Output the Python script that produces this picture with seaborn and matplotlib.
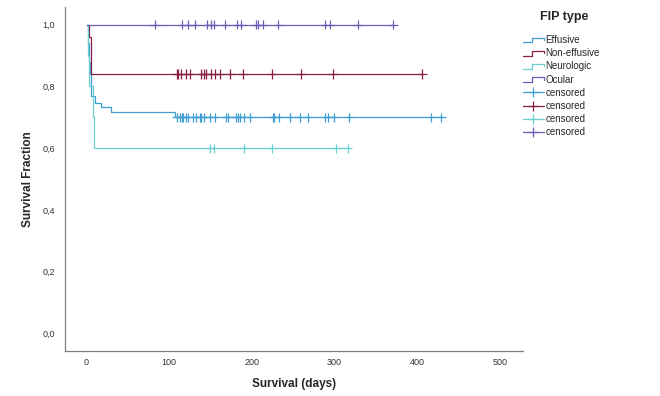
import matplotlib.pyplot as plt
from matplotlib.lines import Line2D
from matplotlib.legend_handler import HandlerBase
from matplotlib.ticker import FuncFormatter
import numpy as np
import pandas as pd
import seaborn as sns

groups = ['Effusive', 'Non-effusive', 'Neurologic', 'Ocular']
colors = ['#3f9fd2', '#8a1d45', '#6dd0d0', '#6a5db8']

# Kaplan-Meier steps (day of event, survival after it)
eff_days = [0, 2, 3, 4, 5, 6, 10, 17, 30, 107]
eff_surv = [1.0, 0.94, 0.88, 0.84, 0.79, 0.77, 0.746, 0.733, 0.717, 0.70]
noneff_days = [0, 3, 5]
noneff_surv = [1.0, 0.96, 0.84]
neuro_days = [0, 2, 3, 8, 9]
neuro_surv = [1.0, 0.9, 0.8, 0.7, 0.6]
ocular_days = [0]
ocular_surv = [1.0]

# censored times
eff_cens = [109, 113, 115, 117, 120, 123, 129, 133, 137, 139, 142, 149, 155, 169, 171,
            181, 183, 186, 191, 198, 225, 227, 233, 246, 258, 268, 289, 292, 299, 318, 417, 429]
noneff_cens = [109, 111, 114, 120, 125, 139, 142, 144, 150, 155, 162, 174, 189, 224, 259, 298, 406]
neuro_cens = [149, 154, 190, 224, 302, 316]
ocular_cens = [83, 116, 123, 131, 146, 151, 154, 168, 182, 187, 205, 208, 214, 232,
               289, 295, 328, 371]

steps = {
    'Effusive': (eff_days, eff_surv, eff_cens),
    'Non-effusive': (noneff_days, noneff_surv, noneff_cens),
    'Neurologic': (neuro_days, neuro_surv, neuro_cens),
    'Ocular': (ocular_days, ocular_surv, ocular_cens),
}

curve_rows = []
cens_rows = []
for g in groups:
    d, s, c = steps[g]
    for day, sv in zip(d + [max(c)], s + [s[-1]]):
        curve_rows.append({'group': g, 'day': day, 'surv': sv})
    for day in c:
        idx = np.searchsorted(d, day, side='right') - 1
        cens_rows.append({'group': g, 'day': day, 'surv': s[idx]})
curves = pd.DataFrame(curve_rows)
cens = pd.DataFrame(cens_rows)

sns.set_style('white')
plt.rcParams['font.family'] = ['Liberation Sans', 'DejaVu Sans']

fig = plt.figure(figsize=(6.6, 3.96), dpi=100)
ax = fig.add_axes([0.0985, 0.114, 0.694, 0.868])
pal = dict(zip(groups, colors))

sns.lineplot(data=curves, x='day', y='surv', hue='group', palette=pal, estimator=None,
             drawstyle='steps-post', linewidth=0.9, legend=False, ax=ax)
sns.scatterplot(data=cens, x='day', y='surv', hue='group', palette=pal, marker='+',
                s=45, linewidth=0.9, legend=False, ax=ax)

ax.set_xlim(-26, 528)
ax.set_ylim(-0.056, 1.057)
ax.set_xticks([0, 100, 200, 300, 400, 500])
ax.set_yticks([0, 0.2, 0.4, 0.6, 0.8, 1.0])
ax.yaxis.set_major_formatter(FuncFormatter(lambda v, p: f'{v:.1f}'.replace('.', ',')))
ax.tick_params(length=0, labelsize=6.5, labelcolor='#333333')
ax.tick_params(axis='y', pad=7)
ax.tick_params(axis='x', pad=5)
sns.despine(ax=ax)
for sp in ['left', 'bottom']:
    ax.spines[sp].set_color('#7f7f7f')
    ax.spines[sp].set_linewidth(0.9)

ax.set_xlabel('Survival (days)', fontsize=8.5, fontweight='bold', labelpad=8)
ax.set_ylabel('Survival Fraction', fontsize=8.5, fontweight='bold', labelpad=6)


class StepHandler(HandlerBase):
    def create_artists(self, legend, orig_handle, xdescent, ydescent, width, height, fontsize, trans):
        xs = np.array([0, 0.45, 0.45, 1.0, 1.0]) * width - xdescent
        ys = np.array([0.1, 0.1, 0.8, 0.8, 0.45]) * height - ydescent
        ln = Line2D(xs, ys, color=orig_handle.get_color(), lw=0.9, transform=trans)
        return [ln]


step_handles = [Line2D([], [], color=c, lw=0.9) for c in colors]
cens_handles = [Line2D([], [], color=c, lw=0.9, marker='+', markersize=7, mew=0.9) for c in colors]
handles = step_handles + cens_handles
labels = groups + ['censored'] * 4

fig.text(564 / 660, 1 - 17 / 396, 'FIP type', ha='center', va='center',
         fontsize=9, fontweight='bold')
leg = fig.legend(handles, labels, loc='upper left', bbox_to_anchor=(0.792, 1 - 35 / 396),
                 frameon=False, fontsize=7, handlelength=2.2, borderpad=0,
                 handletextpad=0.15, labelspacing=0.33, borderaxespad=0,
                 handler_map={h: StepHandler() for h in step_handles})

fig.savefig('out.png', dpi=100)
